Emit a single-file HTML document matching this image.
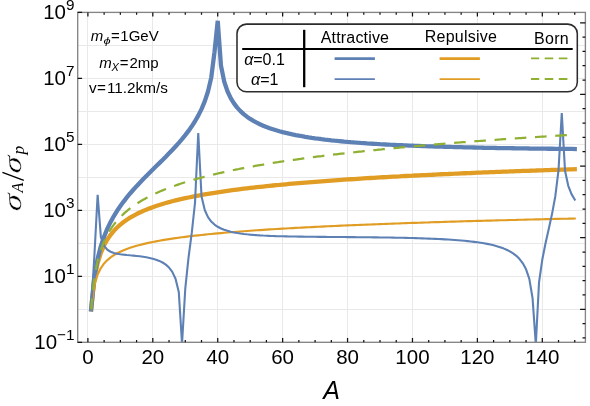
<!DOCTYPE html>
<html><head><meta charset="utf-8"><title>plot</title>
<style>html,body{margin:0;padding:0;background:#fff;}body{width:590px;height:406px;position:relative;overflow:hidden;font-family:"Liberation Sans",sans-serif;}</style>
</head><body>
<svg width="590" height="406" viewBox="0 0 590 406" style="position:absolute;left:0;top:0;will-change:transform;font-family:'Liberation Sans',sans-serif">
<rect x="0" y="0" width="590" height="406" fill="#fff"/>
<path d="M87.50 12.4 V342.3 M152.50 12.4 V342.3 M217.50 12.4 V342.3 M282.50 12.4 V342.3 M347.50 12.4 V342.3 M412.50 12.4 V342.3 M477.50 12.4 V342.3 M542.50 12.4 V342.3 M77.7 309.50 H585.4 M77.7 276.50 H585.4 M77.7 243.50 H585.4 M77.7 210.50 H585.4 M77.7 177.50 H585.4 M77.7 144.50 H585.4 M77.7 111.50 H585.4 M77.7 78.50 H585.4 M77.7 45.50 H585.4" stroke="#e9e9e9" stroke-width="1" fill="none"/>
<clipPath id="c"><rect x="77.7" y="12.4" width="507.7" height="329.90000000000003"/></clipPath>
<g clip-path="url(#c)" fill="none" stroke-linejoin="bevel" stroke-linecap="square">
<path d="M91.15 309.31 L94.39 278.89 L97.64 263.09 L100.88 252.78 L104.13 245.30 L107.37 239.49 L110.62 234.79 L113.87 230.87 L117.11 227.51 L120.36 224.60 L123.60 222.03 L126.85 219.73 L130.09 217.66 L133.34 215.78 L136.59 214.05 L139.83 212.47 L143.08 211.00 L146.32 209.64 L149.57 208.36 L152.81 207.17 L156.06 206.04 L159.31 204.98 L162.55 203.98 L165.80 203.03 L169.04 202.13 L172.29 201.27 L175.53 200.45 L178.78 199.67 L182.03 198.92 L185.27 198.20 L188.52 197.51 L191.76 196.84 L195.01 196.20 L198.25 195.59 L201.50 194.99 L204.75 194.42 L207.99 193.86 L211.24 193.32 L214.48 192.80 L217.73 192.30 L220.97 191.81 L224.22 191.33 L227.47 190.87 L230.71 190.42 L233.96 189.99 L237.20 189.56 L240.45 189.15 L243.69 188.74 L246.94 188.35 L250.19 187.97 L253.43 187.59 L256.68 187.23 L259.92 186.87 L263.17 186.52 L266.41 186.18 L269.66 185.84 L272.90 185.51 L276.15 185.19 L279.40 184.88 L282.64 184.57 L285.89 184.27 L289.13 183.97 L292.38 183.68 L295.62 183.40 L298.87 183.12 L302.12 182.85 L305.36 182.58 L308.61 182.31 L311.85 182.05 L315.10 181.80 L318.34 181.55 L321.59 181.30 L324.84 181.06 L328.08 180.82 L331.33 180.58 L334.57 180.35 L337.82 180.12 L341.06 179.90 L344.31 179.68 L347.56 179.46 L350.80 179.25 L354.05 179.04 L357.29 178.83 L360.54 178.62 L363.78 178.42 L367.03 178.22 L370.28 178.02 L373.52 177.83 L376.77 177.64 L380.01 177.45 L383.26 177.26 L386.50 177.08 L389.75 176.90 L393.00 176.72 L396.24 176.54 L399.49 176.37 L402.73 176.19 L405.98 176.02 L409.22 175.85 L412.47 175.69 L415.72 175.52 L418.96 175.36 L422.21 175.20 L425.45 175.04 L428.70 174.88 L431.94 174.73 L435.19 174.57 L438.44 174.42 L441.68 174.27 L444.93 174.12 L448.17 173.98 L451.42 173.83 L454.66 173.69 L457.91 173.54 L461.16 173.40 L464.40 173.26 L467.65 173.12 L470.89 172.99 L474.14 172.85 L477.38 172.72 L480.63 172.59 L483.88 172.45 L487.12 172.32 L490.37 172.19 L493.61 172.07 L496.86 171.94 L500.10 171.81 L503.35 171.69 L506.60 171.57 L509.84 171.45 L513.09 171.32 L516.33 171.20 L519.58 171.09 L522.82 170.97 L526.07 170.85 L529.32 170.74 L532.56 170.62 L535.81 170.51 L539.05 170.39 L542.30 170.28 L545.54 170.17 L548.79 170.06 L552.04 169.95 L555.28 169.84 L558.53 169.74 L561.77 169.63 L565.02 169.53 L568.26 169.42 L571.51 169.32 L574.75 169.21" stroke="#e19c24" stroke-width="4.3"/>
<path d="M91.15 309.31 L94.39 276.66 L97.64 258.58 L100.88 246.08 L104.13 236.47 L107.37 228.61 L110.62 221.92 L113.87 216.06 L117.11 210.80 L120.36 206.00 L123.60 201.56 L126.85 197.41 L130.09 193.49 L133.34 189.75 L136.59 186.16 L139.83 182.69 L143.08 179.31 L146.32 176.01 L149.57 172.76 L152.81 169.54 L156.06 166.34 L159.31 163.14 L162.55 159.92 L165.80 156.67 L169.04 153.36 L172.29 149.98 L175.53 146.50 L178.78 142.90 L182.03 139.12 L185.27 135.14 L188.52 130.90 L191.76 126.32 L195.01 121.29 L198.25 115.65 L201.50 109.16 L204.75 101.40 L207.99 91.54 L211.24 77.62 L214.48 52.31 L217.73 20.81 L220.97 65.68 L224.22 81.59 L227.47 91.28 L230.71 98.15 L233.96 103.42 L237.20 107.64 L240.45 111.15 L243.69 114.12 L246.94 116.68 L250.19 118.92 L253.43 120.90 L256.68 122.66 L259.92 124.25 L263.17 125.69 L266.41 127.00 L269.66 128.19 L272.90 129.29 L276.15 130.30 L279.40 131.24 L282.64 132.11 L285.89 132.92 L289.13 133.67 L292.38 134.38 L295.62 135.04 L298.87 135.66 L302.12 136.24 L305.36 136.79 L308.61 137.31 L311.85 137.81 L315.10 138.27 L318.34 138.71 L321.59 139.13 L324.84 139.53 L328.08 139.91 L331.33 140.27 L334.57 140.61 L337.82 140.94 L341.06 141.25 L344.31 141.55 L347.56 141.84 L350.80 142.11 L354.05 142.37 L357.29 142.62 L360.54 142.86 L363.78 143.09 L367.03 143.32 L370.28 143.53 L373.52 143.73 L376.77 143.93 L380.01 144.12 L383.26 144.30 L386.50 144.48 L389.75 144.65 L393.00 144.81 L396.24 144.97 L399.49 145.12 L402.73 145.27 L405.98 145.41 L409.22 145.55 L412.47 145.68 L415.72 145.81 L418.96 145.93 L422.21 146.05 L425.45 146.17 L428.70 146.28 L431.94 146.39 L435.19 146.49 L438.44 146.59 L441.68 146.69 L444.93 146.79 L448.17 146.88 L451.42 146.97 L454.66 147.05 L457.91 147.14 L461.16 147.22 L464.40 147.30 L467.65 147.38 L470.89 147.45 L474.14 147.52 L477.38 147.59 L480.63 147.66 L483.88 147.73 L487.12 147.79 L490.37 147.86 L493.61 147.92 L496.86 147.98 L500.10 148.03 L503.35 148.09 L506.60 148.15 L509.84 148.20 L513.09 148.25 L516.33 148.30 L519.58 148.35 L522.82 148.40 L526.07 148.44 L529.32 148.49 L532.56 148.53 L535.81 148.57 L539.05 148.62 L542.30 148.66 L545.54 148.69 L548.79 148.73 L552.04 148.77 L555.28 148.81 L558.53 148.84 L561.77 148.88 L565.02 148.91 L568.26 148.94 L571.51 148.97 L574.75 149.01" stroke="#5e81b5" stroke-width="4.3"/>
<path d="M91.15 309.31 L94.39 285.41 L97.64 274.54 L100.88 268.01 L104.13 263.49 L107.37 260.09 L110.62 257.40 L113.87 255.18 L117.11 253.30 L120.36 251.67 L123.60 250.24 L126.85 248.97 L130.09 247.82 L133.34 246.78 L136.59 245.82 L139.83 244.94 L143.08 244.12 L146.32 243.35 L149.57 242.64 L152.81 241.97 L156.06 241.33 L159.31 240.73 L162.55 240.16 L165.80 239.62 L169.04 239.11 L172.29 238.62 L175.53 238.15 L178.78 237.69 L182.03 237.26 L185.27 236.84 L188.52 236.44 L191.76 236.05 L195.01 235.68 L198.25 235.32 L201.50 234.97 L204.75 234.63 L207.99 234.30 L211.24 233.98 L214.48 233.67 L217.73 233.37 L220.97 233.08 L224.22 232.79 L227.47 232.51 L230.71 232.24 L233.96 231.98 L237.20 231.72 L240.45 231.47 L243.69 231.23 L246.94 230.99 L250.19 230.75 L253.43 230.52 L256.68 230.30 L259.92 230.08 L263.17 229.86 L266.41 229.65 L269.66 229.44 L272.90 229.24 L276.15 229.04 L279.40 228.84 L282.64 228.65 L285.89 228.46 L289.13 228.27 L292.38 228.09 L295.62 227.91 L298.87 227.74 L302.12 227.56 L305.36 227.39 L308.61 227.22 L311.85 227.06 L315.10 226.90 L318.34 226.74 L321.59 226.58 L324.84 226.42 L328.08 226.27 L331.33 226.12 L334.57 225.97 L337.82 225.82 L341.06 225.68 L344.31 225.54 L347.56 225.40 L350.80 225.26 L354.05 225.12 L357.29 224.98 L360.54 224.85 L363.78 224.72 L367.03 224.59 L370.28 224.46 L373.52 224.33 L376.77 224.21 L380.01 224.08 L383.26 223.96 L386.50 223.84 L389.75 223.72 L393.00 223.60 L396.24 223.48 L399.49 223.37 L402.73 223.25 L405.98 223.14 L409.22 223.03 L412.47 222.92 L415.72 222.81 L418.96 222.70 L422.21 222.59 L425.45 222.48 L428.70 222.38 L431.94 222.27 L435.19 222.17 L438.44 222.07 L441.68 221.97 L444.93 221.87 L448.17 221.77 L451.42 221.67 L454.66 221.57 L457.91 221.48 L461.16 221.38 L464.40 221.29 L467.65 221.19 L470.89 221.10 L474.14 221.01 L477.38 220.91 L480.63 220.82 L483.88 220.73 L487.12 220.65 L490.37 220.56 L493.61 220.47 L496.86 220.38 L500.10 220.30 L503.35 220.21 L506.60 220.13 L509.84 220.04 L513.09 219.96 L516.33 219.88 L519.58 219.79 L522.82 219.71 L526.07 219.63 L529.32 219.55 L532.56 219.47 L535.81 219.39 L539.05 219.32 L542.30 219.24 L545.54 219.16 L548.79 219.08 L552.04 219.01 L555.28 218.93 L558.53 218.86 L561.77 218.78 L565.02 218.71 L568.26 218.64 L571.51 218.56 L574.75 218.49" stroke="#e19c24" stroke-width="2.15"/>
<path d="M91.15 309.31 L94.39 255.44 L97.64 194.78 L100.88 237.13 L104.13 245.94 L107.37 249.74 L110.62 251.75 L113.87 252.95 L117.11 253.72 L120.36 254.26 L123.60 254.66 L126.85 255.00 L130.09 255.31 L133.34 255.61 L136.59 255.94 L139.83 256.32 L143.08 256.75 L146.32 257.27 L149.57 257.91 L152.81 258.69 L156.06 259.66 L159.31 260.90 L162.55 262.50 L165.80 264.63 L169.04 267.56 L172.29 271.84 L175.53 278.70 L178.78 291.88 L182.03 343.68 L185.27 288.71 L188.52 257.64 L191.76 232.94 L195.01 202.74 L198.25 132.93 L201.50 196.14 L204.75 210.00 L207.99 217.10 L211.24 221.52 L214.48 224.57 L217.73 226.78 L220.97 228.47 L224.22 229.79 L227.47 230.84 L230.71 231.70 L233.96 232.42 L237.20 233.01 L240.45 233.52 L243.69 233.94 L246.94 234.31 L250.19 234.63 L253.43 234.91 L256.68 235.15 L259.92 235.36 L263.17 235.54 L266.41 235.71 L269.66 235.85 L272.90 235.98 L276.15 236.09 L279.40 236.19 L282.64 236.28 L285.89 236.36 L289.13 236.44 L292.38 236.50 L295.62 236.56 L298.87 236.61 L302.12 236.66 L305.36 236.71 L308.61 236.75 L311.85 236.78 L315.10 236.82 L318.34 236.85 L321.59 236.88 L324.84 236.91 L328.08 236.94 L331.33 236.97 L334.57 236.99 L337.82 237.02 L341.06 237.04 L344.31 237.07 L347.56 237.10 L350.80 237.12 L354.05 237.15 L357.29 237.18 L360.54 237.21 L363.78 237.24 L367.03 237.28 L370.28 237.31 L373.52 237.35 L376.77 237.39 L380.01 237.43 L383.26 237.48 L386.50 237.52 L389.75 237.57 L393.00 237.63 L396.24 237.69 L399.49 237.75 L402.73 237.82 L405.98 237.89 L409.22 237.97 L412.47 238.06 L415.72 238.15 L418.96 238.24 L422.21 238.35 L425.45 238.46 L428.70 238.58 L431.94 238.71 L435.19 238.85 L438.44 239.01 L441.68 239.17 L444.93 239.35 L448.17 239.54 L451.42 239.75 L454.66 239.97 L457.91 240.22 L461.16 240.49 L464.40 240.78 L467.65 241.10 L470.89 241.46 L474.14 241.85 L477.38 242.28 L480.63 242.76 L483.88 243.29 L487.12 243.89 L490.37 244.56 L493.61 245.32 L496.86 246.19 L500.10 247.19 L503.35 248.36 L506.60 249.74 L509.84 251.38 L513.09 253.37 L516.33 255.86 L519.58 259.04 L522.82 263.30 L526.07 269.35 L529.32 278.92 L532.56 298.10 L535.81 344.38 L539.05 282.04 L542.30 259.56 L545.54 243.21 L548.79 228.68 L552.04 213.87 L555.28 196.44 L558.53 170.05 L561.77 113.18 L565.02 170.75 L568.26 185.83 L571.51 194.10 L574.75 199.53" stroke="#5e81b5" stroke-width="2.1" stroke-linejoin="bevel"/>
<path d="M91.15 309.31 L92.77 290.49 L94.39 277.83 L96.01 268.42 L97.64 260.99 L99.26 254.88 L100.88 249.72 L102.51 245.27 L104.13 241.35 L105.75 237.87 L107.37 234.73 L109.00 231.88 L110.62 229.27 L112.24 226.87 L113.87 224.64 L115.49 222.56 L117.11 220.62 L118.73 218.79 L120.36 217.07 L121.98 215.45 L123.60 213.91 L125.23 212.44 L126.85 211.04 L128.47 209.71 L130.09 208.43 L131.72 207.21 L133.34 206.03 L134.96 204.91 L136.59 203.82 L138.21 202.77 L139.83 201.76 L141.45 200.78 L143.08 199.83 L144.70 198.91 L146.32 198.03 L147.95 197.16 L149.57 196.33 L151.19 195.51 L152.81 194.72 L154.44 193.95 L156.06 193.20 L157.68 192.46 L159.31 191.75 L160.93 191.05 L162.55 190.37 L164.17 189.71 L165.80 189.06 L167.42 188.42 L169.04 187.80 L170.67 187.19 L172.29 186.59 L173.91 186.01 L175.53 185.44 L177.16 184.87 L178.78 184.32 L180.40 183.78 L182.03 183.25 L183.65 182.73 L185.27 182.22 L186.89 181.72 L188.52 181.22 L190.14 180.73 L191.76 180.26 L193.39 179.79 L195.01 179.32 L196.63 178.87 L198.25 178.42 L199.88 177.98 L201.50 177.54 L203.12 177.12 L204.75 176.69 L206.37 176.28 L207.99 175.87 L209.61 175.46 L211.24 175.07 L212.86 174.67 L214.48 174.28 L216.11 173.90 L217.73 173.52 L219.35 173.15 L220.97 172.78 L222.60 172.42 L224.22 172.06 L225.84 171.71 L227.47 171.36 L229.09 171.01 L230.71 170.67 L232.33 170.33 L233.96 170.00 L235.58 169.67 L237.20 169.34 L238.83 169.02 L240.45 168.70 L242.07 168.38 L243.69 168.07 L245.32 167.76 L246.94 167.46 L248.56 167.15 L250.19 166.86 L251.81 166.56 L253.43 166.27 L255.05 165.98 L256.68 165.69 L258.30 165.40 L259.92 165.12 L261.54 164.84 L263.17 164.57 L264.79 164.29 L266.41 164.02 L268.04 163.76 L269.66 163.49 L271.28 163.23 L272.90 162.97 L274.53 162.71 L276.15 162.45 L277.77 162.20 L279.40 161.94 L281.02 161.69 L282.64 161.45 L284.26 161.20 L285.89 160.96 L287.51 160.72 L289.13 160.48 L290.76 160.24 L292.38 160.00 L294.00 159.77 L295.62 159.54 L297.25 159.31 L298.87 159.08 L300.49 158.86 L302.12 158.63 L303.74 158.41 L305.36 158.19 L306.98 157.97 L308.61 157.75 L310.23 157.54 L311.85 157.32 L313.48 157.11 L315.10 156.90 L316.72 156.69 L318.34 156.48 L319.97 156.27 L321.59 156.07 L323.21 155.86 L324.84 155.66 L326.46 155.46 L328.08 155.26 L329.70 155.06 L331.33 154.87 L332.95 154.67 L334.57 154.48 L336.20 154.29 L337.82 154.09 L339.44 153.90 L341.06 153.71 L342.69 153.53 L344.31 153.34 L345.93 153.16 L347.56 152.97 L349.18 152.79 L350.80 152.61 L352.42 152.43 L354.05 152.25 L355.67 152.07 L357.29 151.89 L358.92 151.71 L360.54 151.54 L362.16 151.37 L363.78 151.19 L365.41 151.02 L367.03 150.85 L368.65 150.68 L370.28 150.51 L371.90 150.34 L373.52 150.18 L375.14 150.01 L376.77 149.85 L378.39 149.68 L380.01 149.52 L381.64 149.36 L383.26 149.19 L384.88 149.03 L386.50 148.88 L388.13 148.72 L389.75 148.56 L391.37 148.40 L393.00 148.25 L394.62 148.09 L396.24 147.94 L397.86 147.78 L399.49 147.63 L401.11 147.48 L402.73 147.33 L404.36 147.18 L405.98 147.03 L407.60 146.88 L409.22 146.73 L410.85 146.58 L412.47 146.44 L414.09 146.29 L415.72 146.15 L417.34 146.00 L418.96 145.86 L420.58 145.72 L422.21 145.57 L423.83 145.43 L425.45 145.29 L427.08 145.15 L428.70 145.01 L430.32 144.87 L431.94 144.74 L433.57 144.60 L435.19 144.46 L436.81 144.33 L438.44 144.19 L440.06 144.06 L441.68 143.92 L443.30 143.79 L444.93 143.65 L446.55 143.52 L448.17 143.39 L449.80 143.26 L451.42 143.13 L453.04 143.00 L454.66 142.87 L456.29 142.74 L457.91 142.61 L459.53 142.49 L461.16 142.36 L462.78 142.23 L464.40 142.11 L466.02 141.98 L467.65 141.86 L469.27 141.73 L470.89 141.61 L472.52 141.49 L474.14 141.36 L475.76 141.24 L477.38 141.12 L479.01 141.00 L480.63 140.88 L482.25 140.76 L483.88 140.64 L485.50 140.52 L487.12 140.40 L488.74 140.28 L490.37 140.16 L491.99 140.05 L493.61 139.93 L495.24 139.81 L496.86 139.70 L498.48 139.58 L500.10 139.47 L501.73 139.35 L503.35 139.24 L504.97 139.13 L506.60 139.01 L508.22 138.90 L509.84 138.79 L511.46 138.68 L513.09 138.57 L514.71 138.46 L516.33 138.34 L517.96 138.24 L519.58 138.13 L521.20 138.02 L522.82 137.91 L524.45 137.80 L526.07 137.69 L527.69 137.58 L529.32 137.48 L530.94 137.37 L532.56 137.26 L534.18 137.16 L535.81 137.05 L537.43 136.95 L539.05 136.84 L540.68 136.74 L542.30 136.63 L543.92 136.53 L545.54 136.43 L547.17 136.32 L548.79 136.22 L550.41 136.12 L552.04 136.02 L553.66 135.92 L555.28 135.82 L556.90 135.72 L558.53 135.62 L560.15 135.52 L561.77 135.42 L563.40 135.32 L565.02 135.22 L566.64 135.12 L568.26 135.02 L569.89 134.92 L571.51 134.82 L573.13 134.73 L574.75 134.63" stroke="#8fb032" stroke-width="2.25" stroke-linecap="butt" stroke-dasharray="11.6 8.68" stroke-dashoffset="0.7"/>
</g>
<rect x="77.7" y="12.4" width="507.7" height="329.90000000000003" fill="none" stroke="#858585" stroke-width="1.35"/>
<path d="M87.90 342.3 v-4.2 M87.90 12.4 v4.2 M104.13 342.3 v-2.4 M104.13 12.4 v2.4 M120.36 342.3 v-2.4 M120.36 12.4 v2.4 M136.59 342.3 v-2.4 M136.59 12.4 v2.4 M152.81 342.3 v-4.2 M152.81 12.4 v4.2 M169.04 342.3 v-2.4 M169.04 12.4 v2.4 M185.27 342.3 v-2.4 M185.27 12.4 v2.4 M201.50 342.3 v-2.4 M201.50 12.4 v2.4 M217.73 342.3 v-4.2 M217.73 12.4 v4.2 M233.96 342.3 v-2.4 M233.96 12.4 v2.4 M250.19 342.3 v-2.4 M250.19 12.4 v2.4 M266.41 342.3 v-2.4 M266.41 12.4 v2.4 M282.64 342.3 v-4.2 M282.64 12.4 v4.2 M298.87 342.3 v-2.4 M298.87 12.4 v2.4 M315.10 342.3 v-2.4 M315.10 12.4 v2.4 M331.33 342.3 v-2.4 M331.33 12.4 v2.4 M347.56 342.3 v-4.2 M347.56 12.4 v4.2 M363.78 342.3 v-2.4 M363.78 12.4 v2.4 M380.01 342.3 v-2.4 M380.01 12.4 v2.4 M396.24 342.3 v-2.4 M396.24 12.4 v2.4 M412.47 342.3 v-4.2 M412.47 12.4 v4.2 M428.70 342.3 v-2.4 M428.70 12.4 v2.4 M444.93 342.3 v-2.4 M444.93 12.4 v2.4 M461.16 342.3 v-2.4 M461.16 12.4 v2.4 M477.38 342.3 v-4.2 M477.38 12.4 v4.2 M493.61 342.3 v-2.4 M493.61 12.4 v2.4 M509.84 342.3 v-2.4 M509.84 12.4 v2.4 M526.07 342.3 v-2.4 M526.07 12.4 v2.4 M542.30 342.3 v-4.2 M542.30 12.4 v4.2 M558.53 342.3 v-2.4 M558.53 12.4 v2.4 M574.75 342.3 v-2.4 M574.75 12.4 v2.4 M77.7 342.30 h4.4 M77.7 276.32 h4.4 M77.7 210.34 h4.4 M77.7 144.36 h4.4 M77.7 78.38 h4.4 M77.7 12.40 h4.4 M585.4 337.96 h-2.9 M585.4 323.64 h-2.9 M585.4 309.31 h-5.3 M585.4 294.98 h-2.9 M585.4 280.66 h-2.9 M585.4 266.33 h-2.9 M585.4 252.00 h-2.9 M585.4 237.67 h-5.3 M585.4 223.35 h-2.9 M585.4 209.02 h-2.9 M585.4 194.69 h-2.9 M585.4 180.36 h-2.9 M585.4 166.04 h-5.3 M585.4 151.71 h-2.9 M585.4 137.38 h-2.9 M585.4 123.05 h-2.9 M585.4 108.73 h-2.9 M585.4 94.40 h-5.3 M585.4 80.07 h-2.9 M585.4 65.74 h-2.9 M585.4 51.42 h-2.9 M585.4 37.09 h-2.9 M585.4 22.76 h-5.3" stroke="#111" stroke-width="1.25" fill="none"/>
<text x="87.90" y="364.1" font-size="20.5" text-anchor="middle" fill="#000">0</text>
<text x="152.81" y="364.1" font-size="20.5" text-anchor="middle" fill="#000">20</text>
<text x="217.73" y="364.1" font-size="20.5" text-anchor="middle" fill="#000">40</text>
<text x="282.64" y="364.1" font-size="20.5" text-anchor="middle" fill="#000">60</text>
<text x="347.56" y="364.1" font-size="20.5" text-anchor="middle" fill="#000">80</text>
<text x="412.47" y="364.1" font-size="20.5" text-anchor="middle" fill="#000">100</text>
<text x="477.38" y="364.1" font-size="20.5" text-anchor="middle" fill="#000">120</text>
<text x="542.30" y="364.1" font-size="20.5" text-anchor="middle" fill="#000">140</text>
<text x="74.5" y="348.65" font-size="20.5" text-anchor="end" fill="#000">10<tspan font-size="15.3" dy="-8.3">−1</tspan></text>
<text x="74.5" y="282.67" font-size="20.5" text-anchor="end" fill="#000">10<tspan font-size="15.3" dy="-8.3">1</tspan></text>
<text x="74.5" y="216.69" font-size="20.5" text-anchor="end" fill="#000">10<tspan font-size="15.3" dy="-8.3">3</tspan></text>
<text x="74.5" y="150.71" font-size="20.5" text-anchor="end" fill="#000">10<tspan font-size="15.3" dy="-8.3">5</tspan></text>
<text x="74.5" y="84.73" font-size="20.5" text-anchor="end" fill="#000">10<tspan font-size="15.3" dy="-8.3">7</tspan></text>
<text x="74.5" y="18.75" font-size="20.5" text-anchor="end" fill="#000">10<tspan font-size="15.3" dy="-8.3">9</tspan></text>
<text x="331.5" y="399.0" font-size="25" font-style="italic" text-anchor="middle" fill="#000">A</text>
<g transform="translate(20.5,210) rotate(-90)" font-family="'Liberation Serif',serif" font-style="italic" fill="#000"><text transform="translate(-1.7,0) scale(1.3,1) skewX(-6)" font-size="26" stroke="#fff" stroke-width="0.3">σ</text><text transform="translate(17.6,2.9) scale(0.93,1)" font-size="17.5">A</text><path d="M29.7 3.3 L37.6 -18.1" stroke="#000" stroke-width="1.4" fill="none"/><text transform="translate(36.0,0) scale(1.3,1) skewX(-6)" font-size="26" stroke="#fff" stroke-width="0.3">σ</text><text transform="translate(55.6,3.1)" font-size="17.5">p</text></g>
<text x="90.8" y="41.3" font-size="15" fill="#000"><tspan font-style="italic">m</tspan><tspan x="111.0">=</tspan><tspan dx="0.6">1GeV</tspan></text>
<text transform="translate(103.6,44.2) scale(1.06,0.72)" font-size="12" font-style="italic" fill="#000">ϕ</text>
<text x="99.2" y="68.1" font-size="15" fill="#000"><tspan font-style="italic">m</tspan><tspan font-style="italic" font-size="11" dy="3.0" dx="-0.3">X</tspan><tspan dy="-3.0" dx="1.0">=</tspan><tspan dx="1.0">2mp</tspan></text>
<text x="88.9" y="92.6" font-size="15.3" fill="#000">v<tspan dx="0.4">=</tspan><tspan dx="1.0">11.2km/s</tspan></text>
<rect x="237" y="24.1" width="340.3" height="67.7" rx="9.5" ry="9.5" fill="#fff" stroke="#2c2c2c" stroke-width="1.55"/>
<path d="M242.2 49.0 H572.7" stroke="#000" stroke-width="1.9" fill="none"/><path d="M304.2 29.8 V87.2" stroke="#000" stroke-width="2.3" fill="none"/>
<text x="354.95" y="42.6" font-size="16" letter-spacing="0.17" text-anchor="middle" fill="#000">Attractive</text>
<text x="461" y="41.6" font-size="16" letter-spacing="0.25" text-anchor="middle" fill="#000">Repulsive</text>
<text x="551.5" y="43.5" font-size="16" letter-spacing="0.35" text-anchor="middle" fill="#000">Born</text>
<text x="264.5" y="64.9" font-size="16" text-anchor="middle" fill="#000"><tspan font-style="italic">α</tspan>=0.1</text>
<text x="264.8" y="85.4" font-size="16" text-anchor="middle" fill="#000"><tspan font-style="italic">α</tspan>=1</text>
<path d="M334.6 58.65 H374.9" stroke="#5e81b5" stroke-width="2.8"/>
<path d="M334.6 79.1 H374.9" stroke="#5e81b5" stroke-width="1.7"/>
<path d="M439.6 58.65 H479.9" stroke="#e19c24" stroke-width="2.8"/>
<path d="M439.6 79.1 H479.9" stroke="#e19c24" stroke-width="1.7"/>
<path d="M531 58.4 H571" stroke="#8fb032" stroke-width="1.9" stroke-dasharray="8.2 5.5 8.6 5.5 8.6 5.5"/>
<path d="M531 79 H571" stroke="#8fb032" stroke-width="1.9" stroke-dasharray="8.2 5.5 8.6 5.5 8.6 5.5"/>
</svg>
</body></html>
